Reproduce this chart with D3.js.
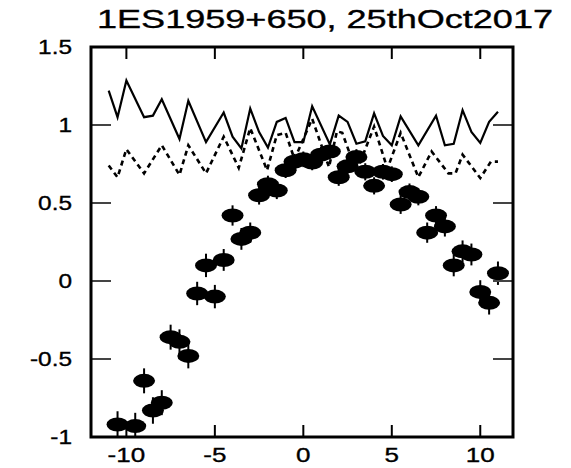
<!DOCTYPE html>
<html>
<head>
<meta charset="utf-8">
<script src="https://cdn.jsdelivr.net/npm/d3@7"></script>
<style>
  body { margin: 0; background: #fff; }
  text { font-family: "Liberation Sans", Arial, sans-serif; fill: #000; stroke: #000; stroke-width: 0.35px; }
</style>
</head>
<body>
<svg id="chart" width="571" height="468"></svg>
<script>
// ---- data ----
const titleText = "1ES1959+650, 25thOct2017";
const xTicks = [-10, -5, 0, 5, 10];
const yTicks = [-1, -0.5, 0, 0.5, 1, 1.5];
const yTickLabels = ["-1", "-0.5", "0", "0.5", "1", "1.5"];

const ptX = [-10.5,-9.5,-9.0,-8.5,-8.0,-7.5,-7.0,-6.5,-6.0,-5.5,-5.0,-4.5,-4.0,-3.5,-3.0,-2.5,-2.0,-1.5,-1.0,-0.5,0.0,0.5,1.0,1.5,2.0,2.5,3.0,3.5,4.0,4.5,5.0,5.5,6.0,6.5,7.0,7.5,8.0,8.5,9.0,9.5,10.0,10.5,11.0];
const ptY = [-0.92,-0.93,-0.64,-0.83,-0.78,-0.36,-0.39,-0.48,-0.08,0.10,-0.10,0.135,0.42,0.27,0.31,0.55,0.62,0.58,0.71,0.765,0.78,0.76,0.81,0.83,0.665,0.735,0.795,0.70,0.61,0.70,0.685,0.49,0.57,0.54,0.31,0.42,0.35,0.10,0.19,0.17,-0.07,-0.14,0.05];
const ptErr = [0.085,0.085,0.08,0.085,0.08,0.08,0.08,0.08,0.075,0.075,0.075,0.07,0.065,0.07,0.065,0.06,0.055,0.055,0.05,0.05,0.05,0.05,0.05,0.05,0.055,0.05,0.05,0.055,0.055,0.05,0.05,0.06,0.055,0.055,0.065,0.06,0.065,0.07,0.07,0.07,0.075,0.075,0.075];

const solidX = [-11.0,-10.5,-10.0,-9.0,-8.5,-8.0,-7.0,-6.5,-5.5,-4.5,-4.0,-3.5,-3.0,-2.5,-2.0,-1.5,-1.0,-0.5,0.0,0.5,1.5,2.0,2.5,3.0,3.5,4.0,4.5,5.0,5.5,6.5,7.5,8.0,8.5,9.0,9.5,10.0,10.5,11.0];
const solidY = [1.22,1.05,1.285,1.05,1.06,1.165,0.91,1.155,0.89,1.08,0.925,0.85,1.105,0.955,0.855,1.02,1.045,0.89,0.89,1.12,0.875,1.06,1.02,0.88,0.895,1.075,0.93,0.87,1.055,0.87,1.06,0.87,0.88,1.095,0.955,0.885,1.02,1.085];

const dashX = [-11.0,-10.5,-10.0,-9.0,-8.0,-7.0,-6.5,-5.5,-4.5,-3.65,-3.0,-2.05,-1.5,-1.0,-0.5,0.5,1.45,1.9,2.2,3.0,4.0,4.75,5.5,6.5,7.25,8.2,8.6,9.0,10.0,10.6,11.0];
const dashY = [0.74,0.665,0.845,0.69,0.87,0.68,0.87,0.69,0.925,0.725,0.98,0.71,0.935,0.95,0.78,1.04,0.73,0.96,0.95,0.70,0.99,0.72,0.95,0.665,0.83,0.69,0.69,0.81,0.66,0.765,0.765];

// ---- layout ----
const svg = d3.select("#chart");
const L = 91, R = 513, T = 47, B = 437;
const x = d3.scaleLinear().domain([-12, 11.85]).range([L, R]);
const y = d3.scaleLinear().domain([-1, 1.5]).range([B, T]);

function stretch(sel, factor) {
  sel.each(function () {
    const w = this.getComputedTextLength();
    d3.select(this).attr("textLength", w * factor).attr("lengthAdjust", "spacingAndGlyphs");
  });
}

// title
svg.append("text")
  .attr("x", 97).attr("y", 28)
  .attr("font-size", 25)
  .attr("textLength", 456).attr("lengthAdjust", "spacingAndGlyphs")
  .text(titleText);

// clip for data
svg.append("clipPath").attr("id", "clip")
  .append("rect").attr("x", L).attr("y", T).attr("width", R - L).attr("height", B - T);
const g = svg.append("g").attr("clip-path", "url(#clip)");

// lines
const lineGen = d3.line().x(d => x(d[0])).y(d => y(d[1]));
g.append("path")
  .datum(solidX.map((v, i) => [v, solidY[i]]))
  .attr("d", lineGen).attr("fill", "none").attr("stroke", "#000").attr("stroke-width", 2.2)
  .attr("stroke-linejoin", "miter");
g.append("path")
  .datum(dashX.map((v, i) => [v, dashY[i]]))
  .attr("d", lineGen).attr("fill", "none").attr("stroke", "#000").attr("stroke-width", 2.6)
  .attr("stroke-dasharray", "5,4");

// points
const pts = ptX.map((v, i) => ({ x: v, y: ptY[i], e: ptErr[i] }));
g.selectAll("line.err").data(pts).join("line").attr("class", "err")
  .attr("x1", d => x(d.x)).attr("x2", d => x(d.x))
  .attr("y1", d => y(d.y - d.e)).attr("y2", d => y(d.y + d.e))
  .attr("stroke", "#000").attr("stroke-width", 2);
g.selectAll("ellipse").data(pts).join("ellipse")
  .attr("cx", d => x(d.x)).attr("cy", d => y(d.y))
  .attr("rx", 11).attr("ry", 7).attr("fill", "#000");

// ticks (inward)
const axG = svg.append("g");
xTicks.forEach(t => {
  axG.append("line").attr("x1", x(t)).attr("x2", x(t)).attr("y1", B).attr("y2", B - 12)
    .attr("stroke", "#000").attr("stroke-width", 2);
  axG.append("line").attr("x1", x(t)).attr("x2", x(t)).attr("y1", T).attr("y2", T + 12)
    .attr("stroke", "#000").attr("stroke-width", 2);
});
yTicks.forEach(t => {
  axG.append("line").attr("x1", L).attr("x2", L + 20).attr("y1", y(t)).attr("y2", y(t))
    .attr("stroke", "#444").attr("stroke-width", 2);
  axG.append("line").attr("x1", R).attr("x2", R - 20).attr("y1", y(t)).attr("y2", y(t))
    .attr("stroke", "#444").attr("stroke-width", 2);
});

// frame
svg.append("rect").attr("x", L).attr("y", T).attr("width", R - L).attr("height", B - T)
  .attr("fill", "none").attr("stroke", "#000").attr("stroke-width", 3);

// tick labels
const xl = svg.append("g").selectAll("text").data(xTicks).join("text")
  .attr("x", d => x(d)).attr("y", 462)
  .attr("text-anchor", "middle").attr("font-size", 20)
  .text(d => d);
stretch(xl, 1.3);

const yl = svg.append("g").selectAll("text").data(yTicks).join("text")
  .attr("x", 72).attr("y", d => y(d) + 7)
  .attr("text-anchor", "end").attr("font-size", 20)
  .text((d, i) => yTickLabels[i]);
stretch(yl, 1.22);
</script>
</body>
</html>
